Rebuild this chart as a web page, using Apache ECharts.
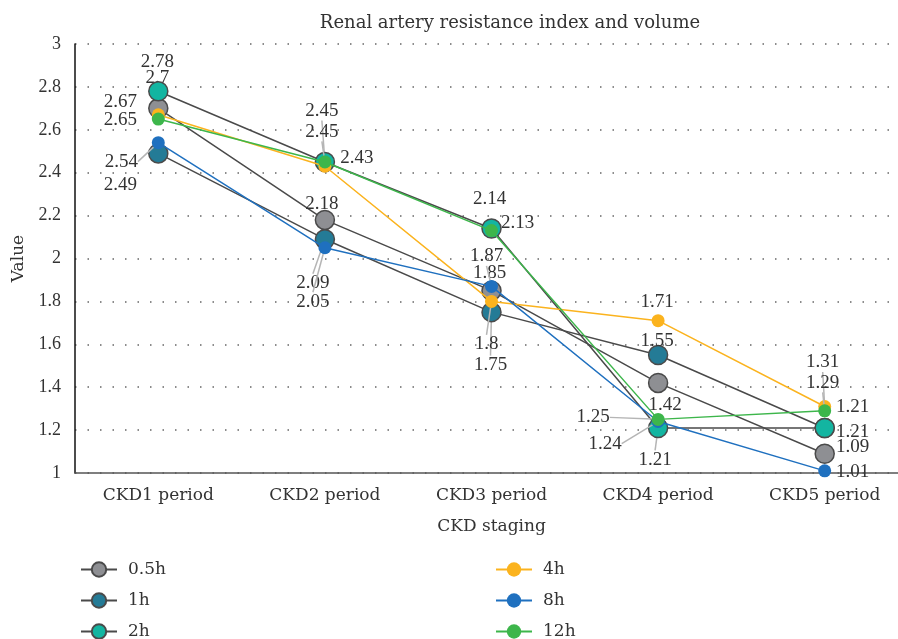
<!DOCTYPE html>
<html>
<head>
<meta charset="utf-8">
<script src="https://cdn.jsdelivr.net/npm/echarts@6/dist/echarts.min.js"></script>
<style>
  html, body { margin: 0; padding: 0; background: #fff; }
  #chart { width: 898px; height: 639px; }
</style>
</head>
<body>
<div id="chart"></div>
<script>
// categories and values
var stages = ['CKD1 period', 'CKD2 period', 'CKD3 period', 'CKD4 period', 'CKD5 period'];
var names = ['0.5h', '1h', '2h', '4h', '8h', '12h'];
var v05h = [2.7, 2.18, 1.85, 1.42, 1.09];
var v1h = [2.49, 2.09, 1.75, 1.55, 1.21];
var v2h = [2.78, 2.45, 2.14, 1.21, 1.21];
var v4h = [2.67, 2.43, 1.8, 1.71, 1.31];
var v8h = [2.54, 2.05, 1.87, 1.24, 1.01];
var v12h = [2.65, 2.45, 2.13, 1.25, 1.29];
var yTicks = { min: 1, max: 3, step: 0.2 };

// words look wider than the digits in the source, so two faces
var wordFont = '"DejaVu Serif", serif';
var numFont = '"Liberation Serif", "DejaVu Serif", serif';
var colors = ['#8e8f93', '#247b96', '#13b5a1', '#fbb31e', '#1f70bf', '#3db64b'];

// where each value label sits relative to its point [dx, dy], and whether a guide line is drawn
var labelShift = [
  [[-1, -30], [-3, -16], [-2, -18], [7, 22], [28, -7]],
  [[-38, 32], [-12, 44], [-1, 53], [-1, -14], [28, 4]],
  [[-1, -29], [-3, -51], [-2, -29], [-3, 32], [28, -21]],
  [[-38, -13], [32, -8], [-5, 43], [-1, -19], [-2, -44]],
  [[-37, 19], [-12, 54], [-5, -30], [-53, 22], [28, 1]],
  [[-38, 1], [-3, -30], [26, -8], [-65, -2], [-2, -28]]
];
var guide = [
  [0, 0, 1, 0, 0],
  [0, 1, 1, 0, 0],
  [0, 1, 0, 1, 0],
  [0, 0, 1, 0, 1],
  [1, 1, 1, 1, 0],
  [0, 1, 0, 1, 1]
];

var chart = echarts.init(document.getElementById('chart'));

function makeSeries(idx, values) {
  var big = idx < 3;
  return {
    name: names[idx],
    type: 'line',
    data: values.map(function (v, i) {
      return {
        value: v,
        labelLine: { show: !!guide[idx][i] }
      };
    }),
    symbol: 'circle',
    symbolSize: big ? 19 : 13,
    z: 2 + idx,
    lineStyle: { color: big ? '#4a4a4a' : colors[idx], width: 1.5 },
    itemStyle: {
      color: colors[idx],
      borderColor: big ? '#4a4a4a' : colors[idx],
      borderWidth: big ? 1.5 : 0
    },
    label: {
      show: true,
      position: 'inside',
      fontFamily: numFont,
      fontSize: 19,
      color: '#333'
    },
    labelLine: {
      lineStyle: { color: '#b5b5b5', width: 1.5 },
      length2: 0
    },
    labelLayout: function (p) {
      var s = labelShift[idx][p.dataIndex];
      return { dx: s[0], dy: s[1] };
    }
  };
}

function legendBox(list, left) {
  return {
    data: list,
    orient: 'vertical',
    left: left,
    top: 556,
    height: 110,
    itemWidth: 36,
    itemHeight: 18,
    itemGap: 14,
    textStyle: {
      fontFamily: wordFont, fontSize: 17, color: '#333',
      padding: [0, 0, 0, 6]
    }
  };
}

var option = {
  backgroundColor: '#fff',
  animation: false,
  title: {
    text: 'Renal artery resistance index and volume',
    left: 505,
    textAlign: 'center',
    top: 9,
    textStyle: { fontFamily: wordFont, fontSize: 18, fontWeight: 'normal', color: '#333' }
  },
  legend: [
    legendBox(names.slice(0, 3), 75),
    legendBox(names.slice(3), 490)
  ],
  grid: { left: 75, top: 44, width: 833, height: 429, outerBoundsMode: 'none' },
  xAxis: {
    type: 'category',
    data: stages,
    boundaryGap: true,
    name: 'CKD staging',
    nameLocation: 'middle',
    nameGap: 45,
    nameTextStyle: { fontFamily: wordFont, fontSize: 17, color: '#333' },
    axisLine: { lineStyle: { color: '#555', width: 1.5 } },
    axisTick: { show: false },
    axisLabel: { fontFamily: wordFont, fontSize: 17, color: '#333', margin: 14 }
  },
  yAxis: {
    type: 'value',
    min: yTicks.min,
    max: yTicks.max,
    interval: yTicks.step,
    name: 'Value',
    nameLocation: 'middle',
    nameGap: 48,
    nameTextStyle: { fontFamily: wordFont, fontSize: 17, color: '#333' },
    axisLine: { show: true, lineStyle: { color: '#111', width: 1.5 } },
    axisTick: { show: false },
    axisLabel: { fontFamily: numFont, fontSize: 18, color: '#333', margin: 14 },
    splitLine: { lineStyle: { color: '#666', type: [1.5, 11], width: 1.5 } }
  },
  series: [
    makeSeries(0, v05h),
    makeSeries(1, v1h),
    makeSeries(2, v2h),
    makeSeries(3, v4h),
    makeSeries(4, v8h),
    makeSeries(5, v12h)
  ]
};

chart.setOption(option);
</script>
</body>
</html>
